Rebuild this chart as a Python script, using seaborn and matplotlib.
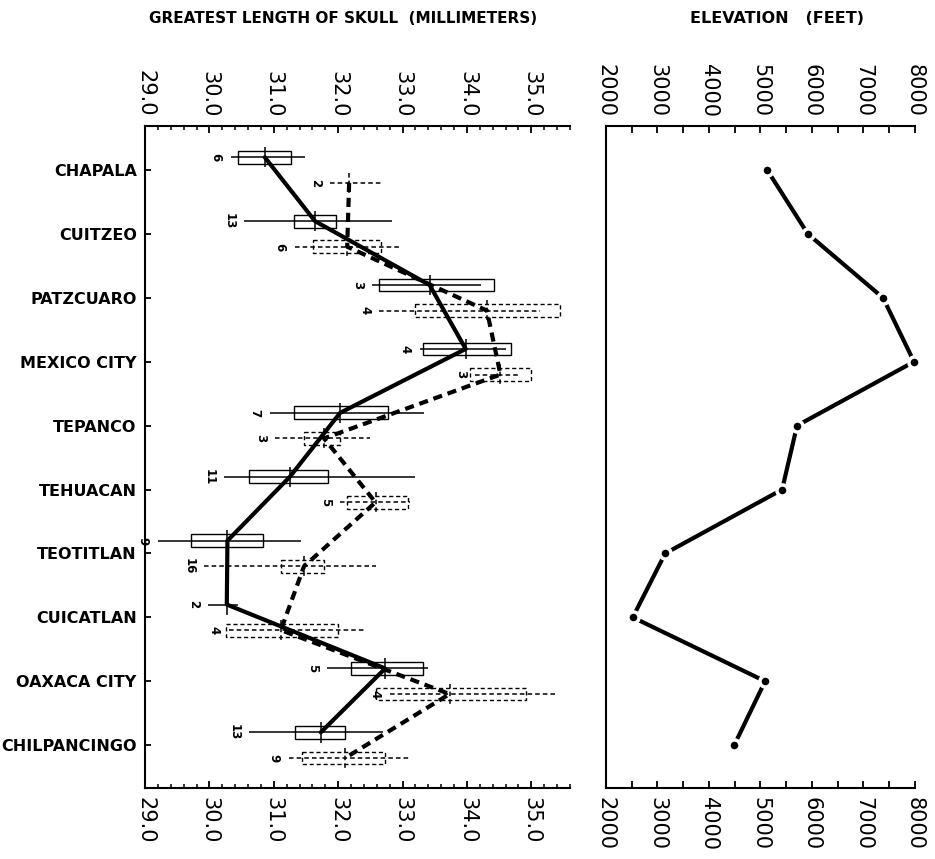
import numpy as np
import pandas as pd
import matplotlib
matplotlib.use("Agg")
import matplotlib.pyplot as plt
import seaborn as sns
from matplotlib.patches import Rectangle
from matplotlib.ticker import MultipleLocator

localities = ["CHAPALA", "CUITZEO", "PATZCUARO", "MEXICO CITY", "TEPANCO",
              "TEHUACAN", "TEOTITLAN", "CUICATLAN", "OAXACA CITY", "CHILPANCINGO"]

# solid series (upper bar of each locality)
solid_n = [6, 13, 3, 4, 7, 11, 9, 2, 5, 13]
solid_mean = [30.86, 31.64, 33.42, 33.98, 32.03, 31.25, 30.28, 30.27, 32.73, 31.73]
solid_min = [30.33, 30.53, 32.53, 33.27, 30.94, 30.23, 29.20, 29.98, 31.83, 30.61]
solid_max = [31.48, 32.83, 34.22, 34.61, 33.34, 33.20, 31.42, 30.45, 33.39, 32.69]
solid_box_lo = [30.45, 31.31, 32.64, 33.31, 31.31, 30.61, 29.72, np.nan, 32.20, 31.33]
solid_box_hi = [31.27, 31.97, 34.42, 34.69, 32.78, 31.84, 30.84, np.nan, 33.31, 32.11]

# dashed series (lower bar of each locality)
dashed_n = [2, 6, 4, 3, 3, 5, 16, 4, 4, 9]
dashed_mean = [32.17, 32.14, 34.31, 34.52, 31.78, 32.58, 31.47, 31.11, 33.73, 32.11]
dashed_min = [31.88, 31.33, 32.64, 34.13, 31.02, 32.03, 29.92, 30.30, 32.80, 31.23]
dashed_max = [32.66, 32.94, 35.14, 34.83, 32.50, 33.11, 32.59, 32.41, 35.39, 33.11]
dashed_box_lo = [np.nan, 31.61, 33.20, 34.05, 31.47, 32.13, 31.11, 30.25, 32.59, 31.44]
dashed_box_hi = [np.nan, 32.67, 35.44, 35.00, 32.03, 33.09, 31.78, 32.00, 34.92, 32.73]

elevation = [5130, 5920, 7380, 7980, 5710, 5420, 3150, 2520, 5090, 4490]

sns.set_style("ticks", {"axes.edgecolor": "black", "text.color": "black",
                        "xtick.color": "black", "ytick.color": "black",
                        "axes.labelcolor": "black"})
plt.rcParams['font.family'] = ['DejaVu Sans']

fig = plt.figure(figsize=(9.35, 8.59), dpi=100)
ax = fig.add_axes([0.1551, 0.0827, 0.4545, 0.7707])
ax2 = fig.add_axes([0.6481, 0.0827, 0.3305, 0.7707])

rows = np.arange(len(localities))


def draw_series(ax, pos, n, lo, hi, blo, bhi, mean, ls, thick_ls):
    # range line, box, mean tick, sample size, then the line joining the means
    ax.hlines(pos, lo, hi, color='black', lw=1.1, linestyle=ls)
    for y, a, b in zip(pos, blo, bhi):
        if np.isnan(a):
            continue
        ax.add_patch(Rectangle((a, y - 0.1), b - a, 0.2, fill=False,
                               edgecolor='black', lw=1.0, linestyle=ls))
    ax.vlines(mean, pos - 0.16, pos + 0.16, color='black', lw=1.1, linestyle=ls)
    for y, v, k in zip(pos, lo, n):
        ax.annotate(str(k), (v, y), xytext=(-6, 0), textcoords='offset points',
                    rotation=-90, ha='right', va='center', fontsize=8.5,
                    fontweight='bold')
    df = pd.DataFrame({'mean': mean, 'pos': pos})
    sns.lineplot(data=df, x='mean', y='pos', sort=False, estimator=None,
                 color='black', linewidth=3, linestyle=thick_ls, ax=ax)


draw_series(ax, rows - 0.2, solid_n, solid_min, solid_max, solid_box_lo,
            solid_box_hi, solid_mean, '-', '-')
draw_series(ax, rows + 0.2, dashed_n, dashed_min, dashed_max, dashed_box_lo,
            dashed_box_hi, dashed_mean, (0, (3, 2)), (0, (2.2, 1.4)))

ax.set_xlim(29.0, 35.6)
ax.set_ylim(9.67, -0.69)
ax.set_xlabel('')
ax.set_ylabel('')
ax.xaxis.set_major_locator(MultipleLocator(1.0))
ax.xaxis.set_minor_locator(MultipleLocator(0.2))
ax.xaxis.set_major_formatter(matplotlib.ticker.FormatStrFormatter('%.1f'))
ax.tick_params(axis='x', which='both', direction='in', top=True, bottom=True,
               labeltop=True, labelbottom=True, labelrotation=-90,
               labelsize=15, pad=6.5)
ax.tick_params(axis='x', which='major', length=5, width=1.3)
ax.tick_params(axis='x', which='minor', length=3, width=1.1)
ax.set_yticks(rows)
ax.set_yticklabels(localities, fontsize=11.5, fontweight='bold')
ax.tick_params(axis='y', direction='in', length=4, width=1.3, pad=6,
               left=True, right=False)
ax.spines['right'].set_visible(False)
for s in ['left', 'top', 'bottom']:
    ax.spines[s].set_linewidth(1.5)

# elevation panel
elev_df = pd.DataFrame({'elevation': elevation, 'pos': rows})
sns.lineplot(data=elev_df, x='elevation', y='pos', sort=False, estimator=None,
             color='black', linewidth=3, marker='o', markersize=8,
             markeredgecolor='white', markeredgewidth=2.5, clip_on=False, ax=ax2)
ax2.set_xlim(2000, 8000)
ax2.set_ylim(9.67, -0.69)
ax2.set_xlabel('')
ax2.set_ylabel('')
ax2.set_yticks([])
ax2.xaxis.set_major_locator(MultipleLocator(1000))
ax2.xaxis.set_minor_locator(MultipleLocator(500))
ax2.tick_params(axis='x', which='both', direction='in', top=True, bottom=True,
                labeltop=True, labelbottom=True, labelrotation=-90,
                labelsize=15, pad=6.5)
ax2.tick_params(axis='x', which='both', length=5, width=1.3)
ax2.spines['right'].set_visible(False)
for s in ['left', 'top', 'bottom']:
    ax2.spines[s].set_linewidth(1.5)

fig.text(0.367, 0.979, "GREATEST LENGTH OF SKULL  (MILLIMETERS)", ha='center',
         va='center', fontsize=11, fontweight='bold')
fig.text(0.831, 0.979, "ELEVATION   (FEET)", ha='center', va='center',
         fontsize=11.5, fontweight='bold')

fig.savefig("out.png", dpi=100)
